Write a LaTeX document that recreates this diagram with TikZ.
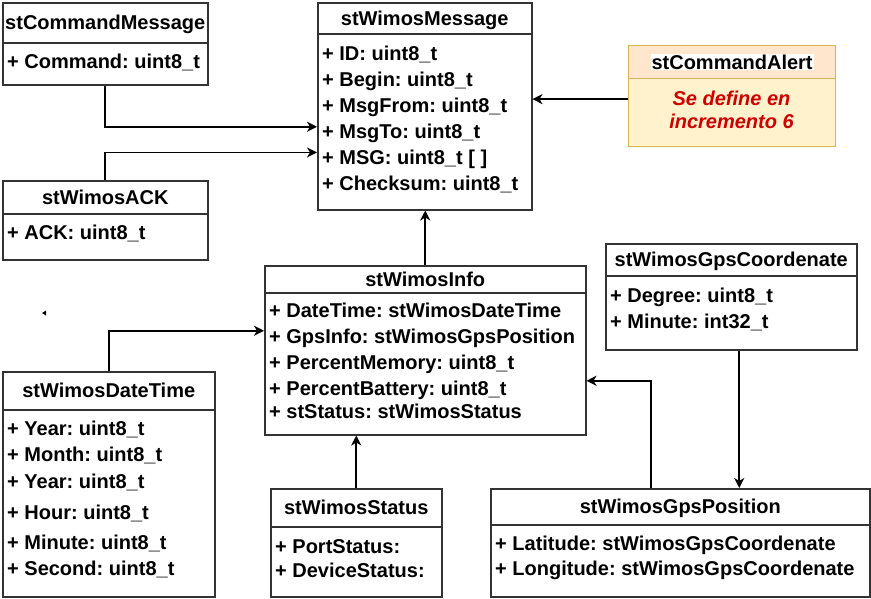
\documentclass[tikz,border=0pt]{standalone}
\usepackage{fontspec}
\setmainfont{Liberation Sans}
\usepackage{tikz}
\usetikzlibrary{arrows.meta}
\definecolor{lineGray}{HTML}{333333}
\definecolor{alertHead}{HTML}{FFE6CC}
\definecolor{alertBody}{HTML}{FFF2CC}
\definecolor{alertLine}{HTML}{D6B656}
\definecolor{alertText}{HTML}{CC0000}
\frenchspacing

\begin{document}
\begin{tikzpicture}[
    x=1pt, y=-1pt,
    head/.style={draw=lineGray, line width=1.5pt, fill=white, anchor=north west, inner sep=0pt,
                 text height=14.3pt, text depth=0pt, font=\fontsize{20}{26}\selectfont\bfseries},
    body/.style={draw=lineGray, line width=1.5pt, fill=white, anchor=north west, inner sep=0pt},
    attr/.style={anchor=north west, inner sep=0pt, align=left, font=\fontsize{20}{26}\selectfont\bfseries},
    arrow/.style={-{Stealth[length=10pt, width=10pt, inset=3pt]}, line width=1.6pt},
]
\fill[white] (0,0) rectangle (871,598);
\useasboundingbox (0,0) rectangle (871,598);

% stCommandMessage
\node[head, minimum width=205pt, minimum height=40pt] (cmdMsgHead) at (2,2) {stCommandMessage};
\node[body, minimum width=205pt, minimum height=42pt] (cmdMsg) at (2,42) {};
\node[attr] (cmdMsgAttr) at (7,54) {+ Command: uint8\_t};

% stWimosACK
\node[head, minimum width=205pt, minimum height=33pt] (ackHead) at (2,180) {stWimosACK};
\node[body, minimum width=205pt, minimum height=46pt] (ack) at (2,213) {};
\node[attr] (ackAttr) at (7,225) {+ ACK: uint8\_t};

% stWimosMessage
\node[head, minimum width=214pt, minimum height=31pt] (msgHead) at (317,2) {stWimosMessage};
\node[body, minimum width=214pt, minimum height=176pt] (msg) at (317,33) {};
\node[attr] (msgAttr) at (322,45.5) {+ ID: uint8\_t\\+ Begin: uint8\_t\\+ MsgFrom: uint8\_t\\+ MsgTo: uint8\_t\\+ MSG: uint8\_t [ ]\\+ Checksum: uint8\_t};

% stCommandAlert
\node[head, fill=alertHead, draw=alertLine, line width=1.2pt, minimum width=207pt, minimum height=33pt] (alertHead) at (628,45)
  {\setlength{\fboxsep}{1pt}\colorbox{white}{stCommandAlert}};
\node[body, fill=alertBody, draw=alertLine, line width=1.2pt, minimum width=207pt, minimum height=68pt] (alert) at (628,78) {};
\node[align=center, inner sep=0pt, text=alertText, font=\fontsize{20}{23}\selectfont\bfseries\itshape] (alertNote) at (731.5,109.5) {Se define en\\incremento 6};

% stWimosInfo
\node[head, minimum width=321pt, minimum height=27pt] (infoHead) at (264,265) {stWimosInfo};
\node[body, minimum width=321pt, minimum height=142pt] (info) at (264,292) {};
\node[attr] (infoAttr) at (269,303) {+ DateTime: stWimosDateTime\\+ GpsInfo: stWimosGpsPosition\\+ PercentMemory: uint8\_t\\+ PercentBattery: uint8\_t\\[-3pt]+ stStatus: stWimosStatus};

% stWimosGpsCoordenate
\node[head, minimum width=251pt, minimum height=32pt] (gpsCoordHead) at (605,243) {stWimosGpsCoordenate};
\node[body, minimum width=251pt, minimum height=74pt] (gpsCoord) at (605,275) {};
\node[attr] (gpsCoordAttr) at (610,288) {+ Degree: uint8\_t\\+ Minute: int32\_t};

% stWimosDateTime
\node[head, minimum width=212pt, minimum height=38pt] (dateTimeHead) at (2,371) {stWimosDateTime};
\node[body, minimum width=212pt, minimum height=187pt] (dateTime) at (2,409) {};
\node[attr] (dateTimeAttr) at (7,421) {+ Year: uint8\_t\\+ Month: uint8\_t\\[1pt]+ Year: uint8\_t\\[5pt]+ Hour: uint8\_t\\[4pt]+ Minute: uint8\_t\\+ Second: uint8\_t};

% stWimosStatus
\node[head, minimum width=171pt, minimum height=38pt] (statusHead) at (270,488) {stWimosStatus};
\node[body, minimum width=171pt, minimum height=70pt] (status) at (270,526) {};
\node[attr] (statusAttr) at (275,539.7) {+ PortStatus:\\[-2pt]+ DeviceStatus:};

% stWimosGpsPosition
\node[head, minimum width=379pt, minimum height=36pt] (gpsPosHead) at (490,488) {stWimosGpsPosition};
\node[body, minimum width=379pt, minimum height=72pt] (gpsPos) at (490,524) {};
\node[attr] (gpsPosAttr) at (495,536) {+ Latitude: stWimosGpsCoordenate\\[-1pt]+ Longitude: stWimosGpsCoordenate};

% Arrows
\coordinate (alertOut) at ([yshift=13.5pt]alert.west);
\coordinate (coordOut) at ([xshift=8pt]gpsCoord.south);
\draw[arrow] (cmdMsg.south) |- ([yshift=-5pt]msg.west);
\draw[arrow] (ackHead.north) |- ([yshift=-30.7pt]msg.west);
\draw[arrow] (alertOut) -- (alertOut -| msg.east);
\draw[arrow] (infoHead.north) -- (infoHead.north |- msg.south);
\draw[arrow] (dateTimeHead.north) |- ([yshift=33pt]info.west);
\draw[arrow] (statusHead.north) -- (statusHead.north |- info.south);
\draw[arrow] ([xshift=-29pt]gpsPosHead.north) |- ([yshift=-17pt]info.east);
\draw[arrow] (coordOut) -- (coordOut |- gpsPosHead.north);

% stray tip
\fill (42,313) -- (46,310.5) -- (46,315.5) -- cycle;

\end{tikzpicture}
\end{document}
